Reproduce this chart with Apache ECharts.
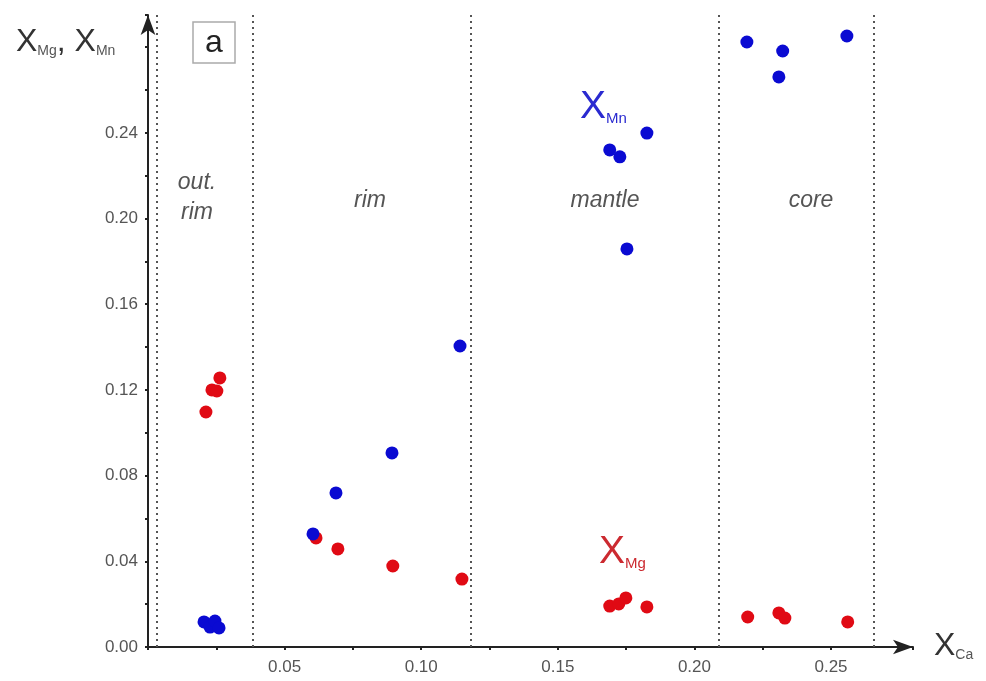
<!DOCTYPE html>
<html>
<head>
<meta charset="utf-8">
<script src="https://cdn.jsdelivr.net/npm/echarts@6/dist/echarts.min.js"></script>
<style>
	html, body { margin: 0; padding: 0; background: #fff; }
	#chart { width: 986px; height: 681px; }
</style>
</head>
<body>
<div id="chart"></div>
<script>
// X_Ca of each analysis point
var xCa = [0.0205, 0.0227, 0.0245, 0.026,
	0.0604, 0.0688, 0.0893, 0.1142,
	0.169, 0.1727, 0.1826, 0.1753,
	0.2192, 0.2323, 0.2309, 0.2558];
var xMn = [0.0117, 0.0093, 0.0121, 0.0089,
	0.0528, 0.0719, 0.0906, 0.1405,
	0.232, 0.2288, 0.2399, 0.1858,
	0.2824, 0.2782, 0.2661, 0.2852];

var xCaMg = [0.0263, 0.0234, 0.0252, 0.0212,
	0.0615, 0.0695, 0.0896, 0.1149,
	0.169, 0.1723, 0.1749, 0.1826,
	0.2195, 0.2309, 0.2331, 0.2561];
var xMg = [0.1256, 0.120, 0.1195, 0.1097,
	0.0509, 0.0458, 0.0378, 0.0317,
	0.0191, 0.0201, 0.0229, 0.0187,
	0.014, 0.0159, 0.0135, 0.0117];

// zone boundaries (dotted lines)
var zoneBounds = [0.0033, 0.0384, 0.118, 0.209, 0.2656];
var zoneNames = ['out.\nrim', 'rim', 'mantle', 'core'];
var yTop = 0.295;

function pairs(xs, ys) {
	var out = [];
	for (var i = 0; i < xs.length; i++) out.push([xs[i], ys[i]]);
	return out;
}

var myChart = echarts.init(document.getElementById('chart'));

var axisColor = '#222';
var labelColor = '#555';
var font = 'Liberation Sans';

var option = {
	backgroundColor: '#fff',
	animation: false,
	grid: { left: 148, right: 73, top: 15, bottom: 34 },
	xAxis: {
		type: 'value',
		min: 0,
		max: 0.28,
		interval: 0.05,
		splitLine: { show: false },
		axisLine: {
			onZero: false,
			symbol: ['none', 'arrow'],
			symbolSize: [11, 20],
			lineStyle: { color: axisColor, width: 2 }
		},
		axisTick: { length: 3, lineStyle: { color: axisColor, width: 2 } },
		minorTick: { show: true, splitNumber: 2, length: 3, lineStyle: { color: axisColor, width: 2 } },
		axisLabel: {
			color: labelColor,
			fontSize: 17,
			fontFamily: font,
			margin: 12,
			formatter: function(v) { return (v === 0 || v > 0.26) ? '' : v.toFixed(2); }
		}
	},
	yAxis: {
		type: 'value',
		min: 0,
		max: yTop,
		interval: 0.04,
		splitLine: { show: false },
		axisLine: {
			onZero: false,
			symbol: ['none', 'arrow'],
			symbolSize: [11, 20],
			lineStyle: { color: axisColor, width: 2 }
		},
		axisTick: { length: 3, lineStyle: { color: axisColor, width: 2 } },
		minorTick: { show: true, splitNumber: 2, length: 3, lineStyle: { color: axisColor, width: 2 } },
		axisLabel: {
			color: labelColor,
			fontSize: 17,
			fontFamily: font,
			margin: 10,
			formatter: function(v) { return v > 0.25 ? '' : v.toFixed(2); }
		}
	},
	series: [{
		name: 'XMg',
		type: 'scatter',
		data: pairs(xCaMg, xMg),
		symbolSize: 13,
		itemStyle: { color: '#e00a14', opacity: 1 },
		markLine: {
			silent: true,
			symbol: ['none', 'none'],
			label: { show: false },
			lineStyle: { color: '#555', type: [2, 4], width: 2 },
			data: zoneBounds.map(function(v) {
				return [{ coord: [v, 0] }, { coord: [v, yTop] }];
			})
		}
	}, {
		name: 'XMn',
		type: 'scatter',
		data: pairs(xCa, xMn),
		symbolSize: 13,
		itemStyle: { color: '#0a0ad2', opacity: 1 }
	}],
	graphic: [
		// y axis title
		{
			type: 'text', left: 16, top: 26,
			style: {
				text: '{x|X}{s|Mg}{x|, X}{s|Mn}',
				rich: {
					x: { fontSize: 32, fontFamily: font, fill: '#333' },
					s: { fontSize: 14, fontFamily: font, fill: '#555', padding: [18, 0, 0, 0] }
				}
			}
		},
		// x axis title
		{
			type: 'text', left: 934, top: 630,
			style: {
				text: '{x|X}{s|Ca}',
				rich: {
					x: { fontSize: 32, fontFamily: font, fill: '#333' },
					s: { fontSize: 14, fontFamily: font, fill: '#555', padding: [18, 0, 0, 0] }
				}
			}
		},
		// panel tag
		{
			type: 'rect', shape: { x: 193, y: 22, width: 42, height: 41 },
			style: { fill: '#fff', stroke: '#aaa', lineWidth: 1.5 }
		},
		{
			type: 'text', x: 214, y: 43,
			style: { text: 'a', fontSize: 32, fontFamily: font, fill: '#222', align: 'center', verticalAlign: 'middle' }
		},
		// zone names
		{
			type: 'text', x: 197, y: 198,
			style: { text: zoneNames[0], fontSize: 23, fontStyle: 'italic', fontFamily: font, fill: '#555', align: 'center', verticalAlign: 'middle', lineHeight: 30 }
		},
		{
			type: 'text', x: 370, y: 201,
			style: { text: zoneNames[1], fontSize: 23, fontStyle: 'italic', fontFamily: font, fill: '#555', align: 'center', verticalAlign: 'middle' }
		},
		{
			type: 'text', x: 605, y: 201,
			style: { text: zoneNames[2], fontSize: 23, fontStyle: 'italic', fontFamily: font, fill: '#555', align: 'center', verticalAlign: 'middle' }
		},
		{
			type: 'text', x: 811, y: 201,
			style: { text: zoneNames[3], fontSize: 23, fontStyle: 'italic', fontFamily: font, fill: '#555', align: 'center', verticalAlign: 'middle' }
		},
		// series labels
		{
			type: 'text', left: 580, top: 88,
			style: {
				text: '{x|X}{s|Mn}',
				rich: {
					x: { fontSize: 39, fontFamily: font, fill: '#2a2ad0' },
					s: { fontSize: 15, fontFamily: font, fill: '#2a2ad0', padding: [22, 0, 0, 0] }
				}
			}
		},
		{
			type: 'text', left: 599, top: 533,
			style: {
				text: '{x|X}{s|Mg}',
				rich: {
					x: { fontSize: 39, fontFamily: font, fill: '#cc2a30' },
					s: { fontSize: 15, fontFamily: font, fill: '#cc2a30', padding: [22, 0, 0, 0] }
				}
			}
		}
	]
};
myChart.setOption(option);
</script>
</body>
</html>
